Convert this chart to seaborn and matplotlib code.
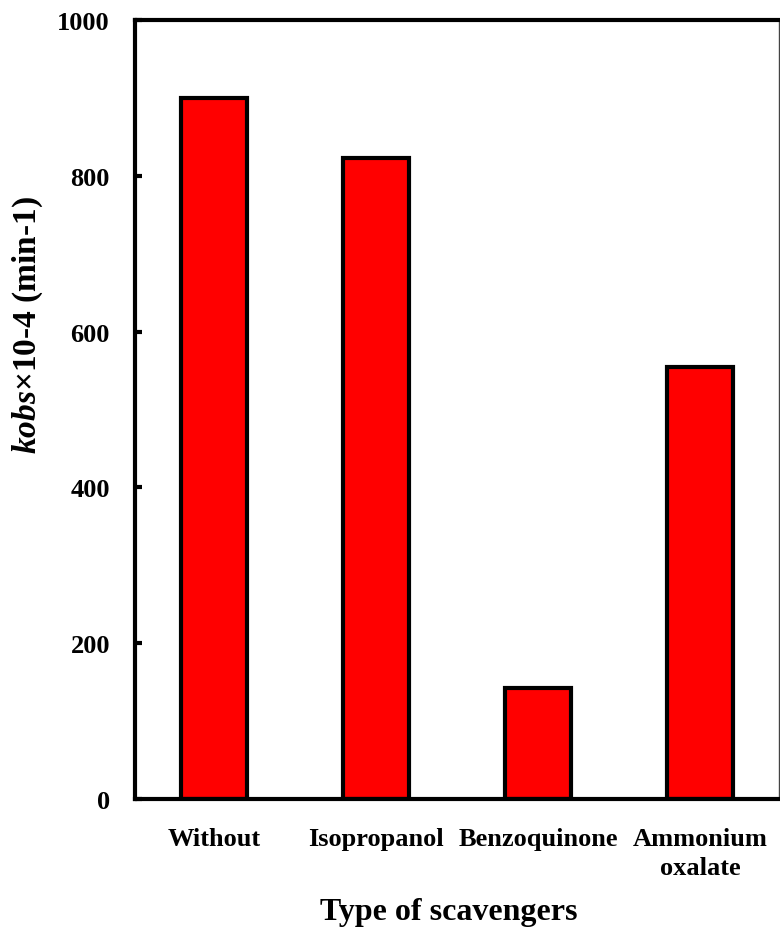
import matplotlib
matplotlib.use("Agg")
import matplotlib.pyplot as plt
import seaborn as sns
import pandas as pd

categories = ["Without", "Isopropanol", "Benzoquinone", "Ammonium\noxalate"]
kobs_values = [900, 823, 143, 554]
y_ticks = [0, 200, 400, 600, 800, 1000]

sns.set_style("white")
plt.rcParams['font.family'] = ['Liberation Serif', 'DejaVu Serif']
plt.rcParams['font.weight'] = 'bold'
plt.rcParams['text.color'] = 'black'
plt.rcParams['axes.labelcolor'] = 'black'
plt.rcParams['xtick.color'] = 'black'
plt.rcParams['ytick.color'] = 'black'
plt.rcParams['mathtext.fontset'] = 'custom'
plt.rcParams['mathtext.it'] = 'Liberation Serif:italic:bold'
plt.rcParams['mathtext.rm'] = 'Liberation Serif:bold'

df = pd.DataFrame({"cat": categories, "val": kobs_values})

fig = plt.figure(figsize=(7.8, 9.29), dpi=100)
ax = fig.add_axes([0.173, 0.1389, 0.826, 0.8385])

sns.barplot(data=df, x="cat", y="val", ax=ax, color="#ff0000", saturation=1,
            width=0.41, edgecolor="black", linewidth=3)

ax.set_xlim(-0.49, 3.49)
ax.set_ylim(0, 1000)
ax.set_yticks(y_ticks)
ax.set_yticklabels([str(t) for t in y_ticks], fontsize=19, fontweight='bold', color='black')
ax.tick_params(axis='y', direction='in', length=5, width=3, pad=18, left=True)
ax.tick_params(axis='x', length=0, pad=20, labelsize=19)
for lab in ax.get_xticklabels():
    lab.set_fontweight('bold')
    lab.set_color('black')
    lab.set_linespacing(1.375)

for side in ['left', 'top', 'bottom']:
    ax.spines[side].set_linewidth(3)
    ax.spines[side].set_color('black')
ax.spines['right'].set_linewidth(1)
ax.spines['right'].set_color('#444444')

ax.set_xlabel("Type of scavengers", fontsize=23, fontweight='bold', color='black')
ax.xaxis.set_label_coords(0.4876, -0.1538)
ax.xaxis.label.set_va('baseline')
ax.set_ylabel(r"$kobs$×10-4 (min-1)", fontsize=24, fontweight='bold', color='black')
ax.yaxis.set_label_coords(-0.14, 0.61)

fig.savefig("out.png", dpi=100)
